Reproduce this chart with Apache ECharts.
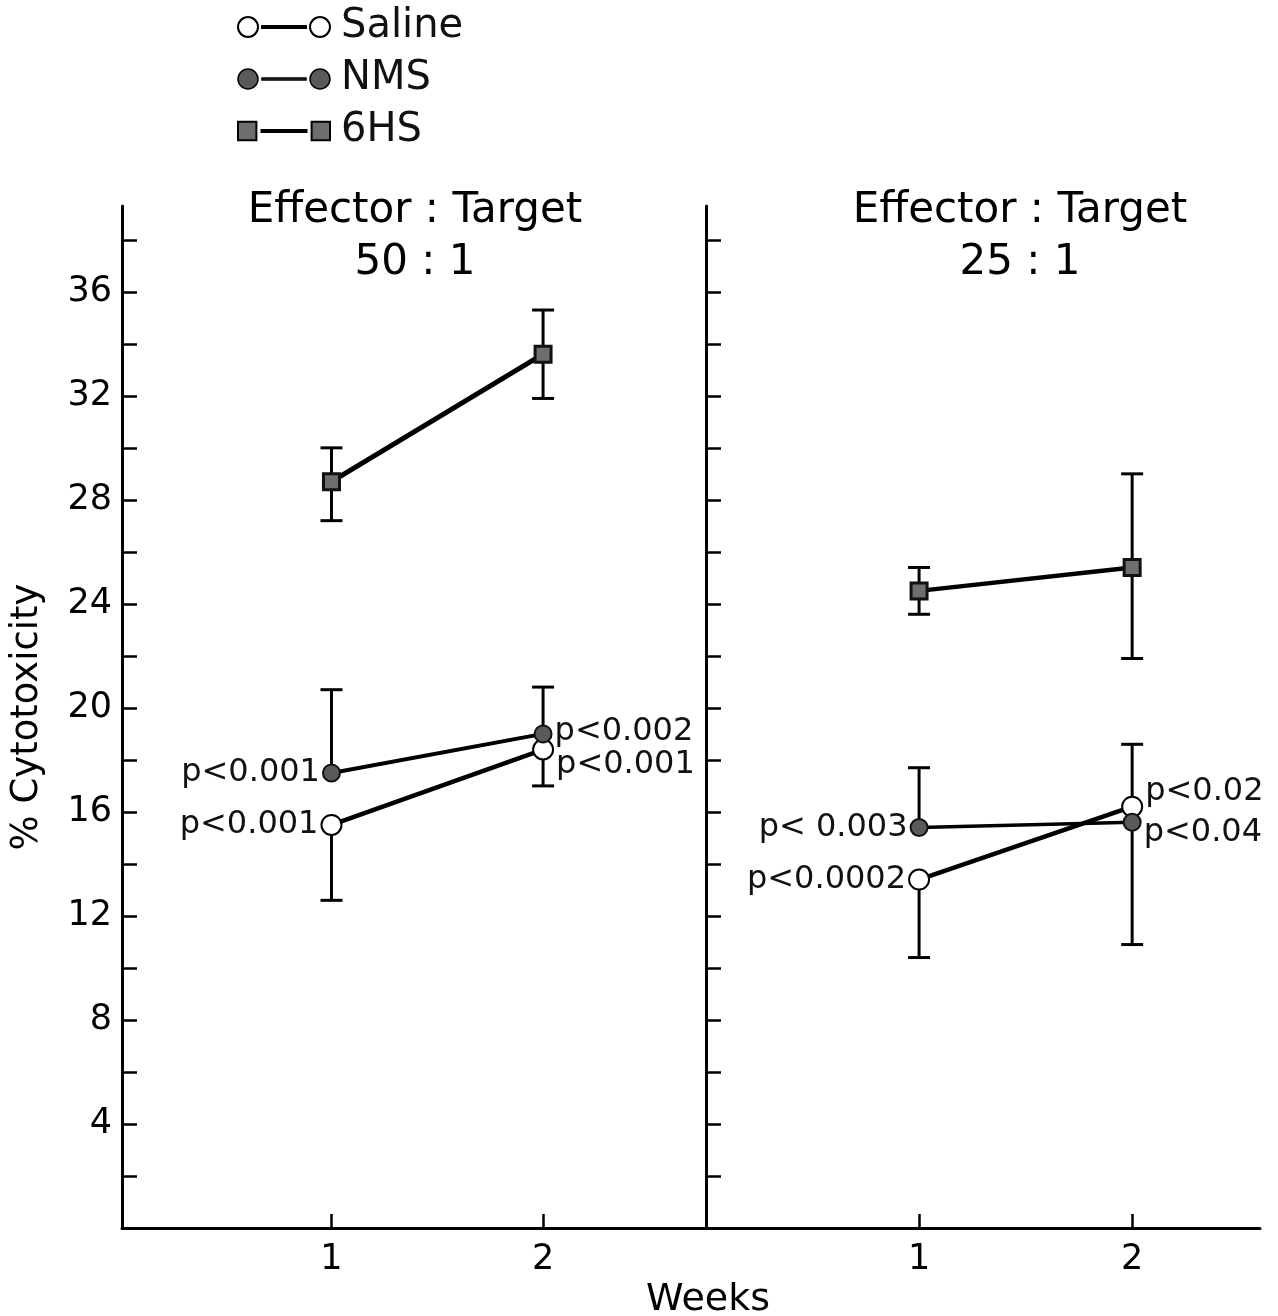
<!DOCTYPE html>
<html>
<head>
<meta charset="utf-8">
<script src="https://cdn.jsdelivr.net/npm/echarts@6/dist/echarts.min.js"></script>
<style>
html, body { margin: 0; padding: 0; background: #fff; }
#chart { width: 1278px; height: 1316px; }
</style>
</head>
<body>
<div id="chart"></div>
<script>
// ---------------- data ----------------
const weeks = [1, 2];
const yTickValues = [2, 4, 6, 8, 10, 12, 14, 16, 18, 20, 22, 24, 26, 28, 30, 32, 34, 36, 38];
const yLabelValues = [4, 8, 12, 16, 20, 24, 28, 32, 36];
const xTickValues = [1, 2];
const groups = ['Saline', 'NMS', '6HS'];

// Effector : Target 50 : 1
const saline50 = [15.5, 18.4];
const nms50 = [17.5, 19.0];
const hs50 = [28.7, 33.6];
const salineHigh50 = [null, null];
const salineLow50 = [12.6, 17.0];
const nmsHigh50 = [20.7, 20.8];
const nmsLow50 = [null, null];
const hsHigh50 = [30.0, 35.3];
const hsLow50 = [27.2, 31.9];
const salineP50 = ['p<0.001', 'p<0.001'];
const nmsP50 = ['p<0.001', 'p<0.002'];

// Effector : Target 25 : 1
const saline25 = [13.4, 16.2];
const nms25 = [15.4, 15.6];
const hs25 = [24.5, 25.4];
const salineHigh25 = [null, 18.6];
const salineLow25 = [10.4, null];
const nmsHigh25 = [17.7, null];
const nmsLow25 = [null, 10.9];
const hsHigh25 = [25.4, 29.0];
const hsLow25 = [23.6, 21.9];
const salineP25 = ['p<0.0002', 'p<0.02'];
const nmsP25 = ['p< 0.003', 'p<0.04'];

// ---------------- styles ----------------
const FONT = "'DejaVu Sans', sans-serif";
const styles = {
  Saline: { symbol: 'circle', symbolSize: 20, itemStyle: { color: '#ffffff', borderColor: '#000', borderWidth: 2 } },
  NMS: { symbol: 'circle', symbolSize: 17, itemStyle: { color: '#5a5a5a', borderColor: '#111', borderWidth: 2 } },
  '6HS': { symbol: 'rect', symbolSize: 16, itemStyle: { color: '#6e6e6e', borderColor: '#111', borderWidth: 3 } }
};

function lineSeries(name, gi, values, pLabels, labelCfg, width) {
  return {
    type: 'line', name: name, xAxisIndex: gi, yAxisIndex: gi, z: 3,
    symbol: styles[name].symbol, symbolSize: styles[name].symbolSize,
    itemStyle: styles[name].itemStyle,
    lineStyle: { color: '#000', width: width },
    emphasis: { disabled: true },
    animation: false,
    data: weeks.map((w, i) => {
      const item = { value: [w, values[i]] };
      if (pLabels && pLabels[i]) {
        item.label = Object.assign({
          show: true, formatter: pLabels[i], fontFamily: FONT, fontSize: 32, color: '#111', distance: 2
        }, labelCfg[i]);
      }
      return item;
    })
  };
}

function barData(means, ends) {
  const out = [];
  ends.forEach((e, i) => { if (e !== null) out.push([weeks[i], means[i], e]); });
  return out;
}

function renderBar(params, api) {
  const x = api.value(0), m = api.value(1), e = api.value(2);
  const p0 = api.coord([x, m]);
  const p1 = api.coord([x, e]);
  const hw = 11;
  const st = { stroke: '#000', lineWidth: 3 };
  return {
    type: 'group',
    children: [
      { type: 'line', shape: { x1: p0[0], y1: p0[1], x2: p1[0], y2: p1[1] }, style: st },
      { type: 'line', shape: { x1: p1[0] - hw, y1: p1[1], x2: p1[0] + hw, y2: p1[1] }, style: st }
    ]
  };
}

function barSeries(gi, pairs) {
  let data = [];
  pairs.forEach(p => { data = data.concat(barData(p[0], p[1])); });
  return {
    type: 'custom', xAxisIndex: gi, yAxisIndex: gi, z: 1, animation: false,
    renderItem: renderBar, encode: { x: 0, y: [1, 2] }, data: data, silent: true
  };
}

const L = 'left', R = 'right';
const series = [
  barSeries(0, [[saline50, salineHigh50], [saline50, salineLow50], [nms50, nmsHigh50], [nms50, nmsLow50], [hs50, hsHigh50], [hs50, hsLow50]]),
  barSeries(1, [[saline25, salineHigh25], [saline25, salineLow25], [nms25, nmsHigh25], [nms25, nmsLow25], [hs25, hsHigh25], [hs25, hsLow25]]),
  lineSeries('Saline', 0, saline50, salineP50, [{ position: L }, { position: R, offset: [0, 15] }], 4.5),
  lineSeries('NMS', 0, nms50, nmsP50, [{ position: L }, { position: R, offset: [0, -2] }], 4),
  lineSeries('6HS', 0, hs50, null, null, 5),
  lineSeries('Saline', 1, saline25, salineP25, [{ position: L }, { position: R, offset: [0, -15] }], 4.5),
  lineSeries('NMS', 1, nms25, nmsP25, [{ position: L }, { position: R, offset: [0, 10] }], 3.5),
  lineSeries('6HS', 1, hs25, null, null, 4.5)
];

const axisLineStyle = { color: '#000', width: 3 };
function xAxis(gi, min, max) {
  return {
    type: 'value', gridIndex: gi, min: min, max: max,
    axisLine: { show: true, onZero: false, lineStyle: axisLineStyle },
    axisTick: { show: true, inside: true, length: 14, customValues: xTickValues, lineStyle: { color: '#000', width: 2.5 } },
    axisLabel: { show: true, customValues: xTickValues, fontFamily: FONT, fontSize: 35, color: '#000', margin: 14 },
    splitLine: { show: false }
  };
}
function yAxis(gi, showLabels) {
  const ax = {
    type: 'value', gridIndex: gi, min: 0, max: 39.3,
    axisLine: { show: true, onZero: false, lineStyle: axisLineStyle },
    axisTick: { show: true, inside: true, length: 15, customValues: yTickValues, lineStyle: { color: '#000', width: 2.5 } },
    axisLabel: { show: showLabels, customValues: yLabelValues, fontFamily: FONT, fontSize: 35, color: '#000', margin: 10 },
    splitLine: { show: false }
  };
  if (showLabels) {
    ax.name = '% Cytotoxicity';
    ax.nameLocation = 'middle';
    ax.nameGap = 76;
    ax.nameTextStyle = { fontFamily: FONT, fontSize: 37, color: '#000' };
  }
  return ax;
}

const circIcon = 'path://M0,10a10,10 0 1,0 20,0a10,10 0 1,0 -20,0Z M24,9h44v2h-44Z M72,10a10,10 0 1,0 20,0a10,10 0 1,0 -20,0Z';
const sqIcon = 'path://M1,1h18v18h-18Z M24,9h44v2h-44Z M73,1h18v18h-18Z';

const option = {
  backgroundColor: '#ffffff',
  animation: false,
  title: [
    { text: 'Effector : Target\n50 : 1', left: 410, top: 180, textAlign: 'center',
      textStyle: { fontFamily: FONT, fontSize: 42, lineHeight: 52, fontWeight: 'normal', color: '#000' } },
    { text: 'Effector : Target\n25 : 1', left: 1015, top: 180, textAlign: 'center',
      textStyle: { fontFamily: FONT, fontSize: 42, lineHeight: 52, fontWeight: 'normal', color: '#000' } },
    { text: 'Weeks', left: 703, top: 1276, textAlign: 'center',
      textStyle: { fontFamily: FONT, fontSize: 38, fontWeight: 'normal', color: '#000' } }
  ],
  legend: {
    orient: 'vertical', left: 232, top: 2, itemGap: 12, itemWidth: 92, itemHeight: 20,
    selectedMode: false,
    textStyle: { fontFamily: FONT, fontSize: 40, lineHeight: 39, color: '#111', padding: [0, 0, 0, 6] },
    data: [
      { name: 'Saline', icon: circIcon, itemStyle: { color: '#fff', borderColor: '#000', borderWidth: 2 } },
      { name: 'NMS', icon: circIcon, itemStyle: { color: '#5a5a5a', borderColor: '#000', borderWidth: 1.5 } },
      { name: '6HS', icon: sqIcon, itemStyle: { color: '#6e6e6e', borderColor: '#000', borderWidth: 2 } }
    ]
  },
  grid: [
    { left: 122, width: 584, top: 206, bottom: 88, containLabel: false },
    { left: 706, width: 554, top: 206, bottom: 88, containLabel: false }
  ],
  xAxis: [xAxis(0, 0.01, 2.77), xAxis(1, 0, 2.6)],
  yAxis: [yAxis(0, true), yAxis(1, false)],
  series: series
};

const chart = echarts.init(document.getElementById('chart'), null, { renderer: 'canvas' });
chart.setOption(option);
</script>
</body>
</html>
